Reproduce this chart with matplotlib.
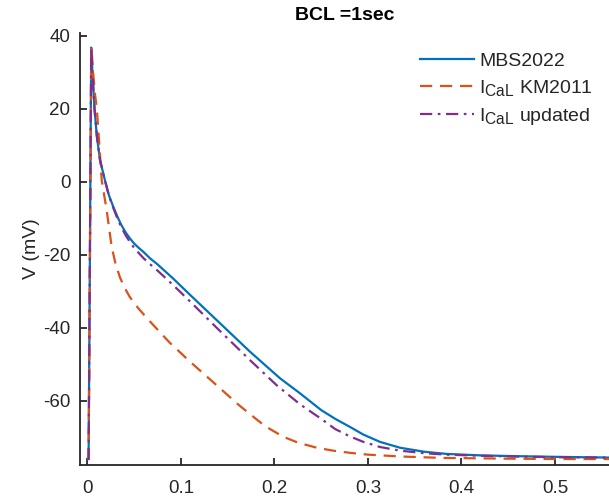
import matplotlib
matplotlib.use("Agg")
import matplotlib.pyplot as plt
import matplotlib._mathtext as _mt

_mt.SHRINK_FACTOR = 0.8
plt.rcParams['font.family'] = ['Liberation Sans', 'DejaVu Sans']
plt.rcParams['mathtext.fontset'] = 'custom'
plt.rcParams['mathtext.rm'] = 'Liberation Sans'
plt.rcParams['mathtext.it'] = 'Liberation Sans:italic'
plt.rcParams['mathtext.bf'] = 'Liberation Sans:bold'

title = "BCL =1sec"
ylabel = "V (mV)"
labels = ["MBS2022", r"$\mathregular{I_{CaL}}$ KM2011", r"$\mathregular{I_{CaL}}$ updated"]

t_mbs = [0, 0.0012, 0.004, 0.0055, 0.0075, 0.010, 0.0134, 0.019, 0.023, 0.0276, 0.032,
         0.036, 0.041, 0.0455, 0.050, 0.055, 0.060, 0.0668, 0.075, 0.0918, 0.11, 0.138,
         0.1738, 0.206, 0.2273, 0.25, 0.265, 0.2807, 0.295, 0.3128, 0.3342, 0.36, 0.384,
         0.42, 0.455, 0.50, 0.558]
v_mbs = [-76, -76, 36.7, 29, 20, 12.5, 5.9, 0, -3.8, -6.9, -9.6,
         -11.8, -14.0, -15.6, -17.0, -18.2, -19.3, -21.0, -22.7, -26.6, -31.1, -37.9,
         -46.6, -53.9, -58.0, -62.6, -65.0, -67.2, -69.3, -71.3, -72.9, -74.0, -74.6,
         -75.0, -75.2, -75.4, -75.6]

t_km = [0, 0.0012, 0.0042, 0.006, 0.008, 0.010, 0.0127, 0.0152, 0.0205, 0.0259, 0.030,
        0.0348, 0.040, 0.045, 0.050, 0.055, 0.0668, 0.0882, 0.11, 0.1417, 0.16, 0.1738,
        0.19, 0.2094, 0.225, 0.2451, 0.2625, 0.2807, 0.30, 0.3342, 0.38, 0.45, 0.50, 0.558]
v_km = [-76, -76, 37, 30, 24, 20, 10, 0.4, -7.8, -17.9, -22.5,
        -26.3, -29.2, -31.5, -33.3, -34.9, -38.3, -44.2, -49.4, -56.6, -60.8, -63.7,
        -67.0, -69.9, -71.5, -72.9, -73.7, -74.3, -74.8, -75.3, -75.7, -75.9, -76.0, -76.0]

t_upd = [0, 0.0012, 0.004, 0.0055, 0.0075, 0.010, 0.0134, 0.019, 0.023, 0.0276, 0.032,
         0.036, 0.041, 0.0455, 0.050, 0.055, 0.060, 0.0668, 0.075, 0.0918, 0.11, 0.138,
         0.1738, 0.2024, 0.2273, 0.25, 0.265, 0.2807, 0.295, 0.3128, 0.3342, 0.36, 0.384,
         0.42, 0.455, 0.50, 0.558]
v_upd = [-76, -76, 36.5, 29, 20, 12.5, 5.9, 0, -4.0, -7.2, -10.1,
         -12.4, -14.8, -16.6, -18.2, -19.6, -21.0, -22.6, -24.4, -28.4, -32.9, -40.0,
         -48.9, -55.8, -61.0, -65.0, -67.8, -69.8, -71.3, -72.7, -73.7, -74.4, -74.8,
         -75.1, -75.3, -75.5, -75.6]

xticks = [0, 0.1, 0.2, 0.3, 0.4, 0.5]
xticklabels = ["0", "0.1", "0.2", "0.3", "0.4", "0.5"]
yticks = [-60, -40, -20, 0, 20, 40]
yticklabels = ["-60", "-40", "-20", "0", "20", "40"]

fig = plt.figure(figsize=(6.09, 4.98), dpi=100)
ax = fig.add_axes([80/609, 1-464.5/498, 1-80/609, (464.5-33)/498])

ax.plot(t_mbs, v_mbs, color='#0072BD', lw=1.6, ls='-', label=labels[0])
ax.plot(t_km, v_km, color='#D95319', lw=1.6, ls=(0, (5.5, 3.5)), label=labels[1])
ax.plot(t_upd, v_upd, color='#7E2F8E', lw=1.6, ls=(0, (5.5, 2.5, 1.2, 2.5)), label=labels[2])

ax.set_xlim(-0.008, 0.5578)
ax.set_ylim(-77.5, 40.7)
ax.set_xticks(xticks)
ax.set_xticklabels(xticklabels)
ax.set_yticks(yticks)
ax.set_yticklabels(yticklabels)

for s in ['top', 'right']:
    ax.spines[s].set_visible(False)
for s in ['left', 'bottom']:
    ax.spines[s].set_linewidth(1.3)
    ax.spines[s].set_color('#262626')
ax.tick_params(direction='in', length=5, width=1.3, color='#262626',
               labelsize=13.5, labelcolor='#262626')
ax.tick_params(axis='x', pad=11)
ax.tick_params(axis='y', pad=7)

ax.set_title(title, fontsize=14, fontweight='bold', color='black', pad=9)
ax.set_ylabel(ylabel, fontsize=14, color='#262626', labelpad=2)

leg = ax.legend(loc='upper left', bbox_to_anchor=(420/609, 1-52/498),
                bbox_transform=fig.transFigure, frameon=False, borderpad=0,
                borderaxespad=0, fontsize=14, handlelength=2.8, handletextpad=0.25,
                labelspacing=0.42)
for txt in leg.get_texts():
    txt.set_color('#262626')

fig.savefig("out.png", dpi=100)
